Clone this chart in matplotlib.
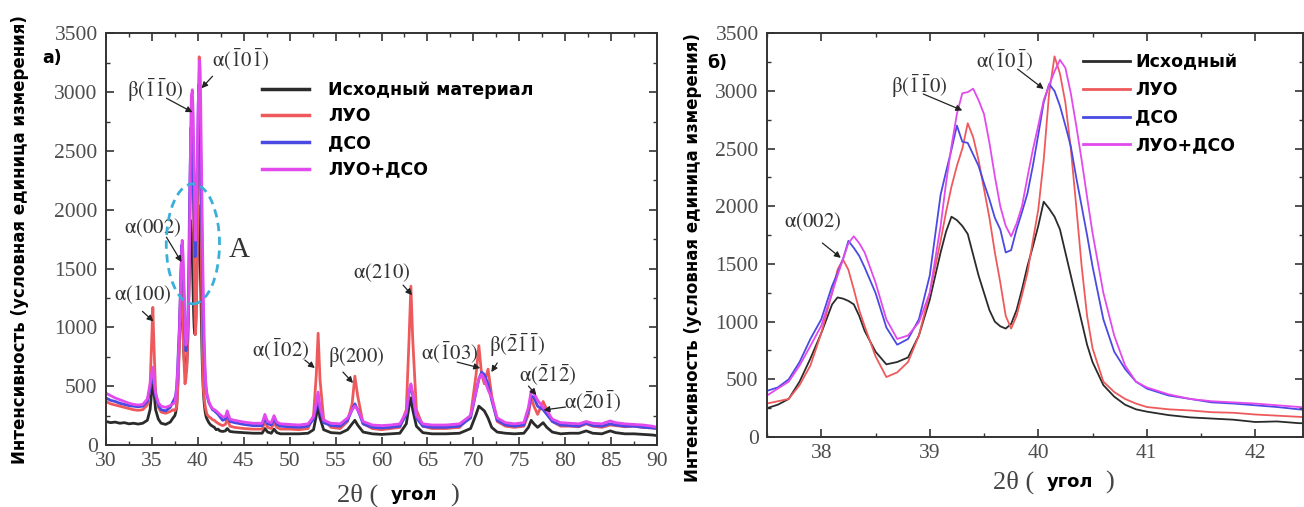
import matplotlib
matplotlib.use('Agg')
import matplotlib.pyplot as plt
from matplotlib.patches import Ellipse
from matplotlib.ticker import MultipleLocator
from matplotlib.font_manager import FontProperties

plt.rcParams['font.family'] = ['Liberation Serif', 'DejaVu Serif']
plt.rcParams['mathtext.fontset'] = 'stix'

# ---------------- data ----------------
# 2theta grid (three segments)
x_seg_a = [30, 30.5, 31, 31.5, 32, 32.5, 33, 33.5, 34, 34.5,
           34.8, 35.0, 35.1, 35.2, 35.4, 35.7, 36, 36.5, 37, 37.3]
x_seg_b = [37.5, 37.6, 37.7, 37.8, 37.9, 38.0, 38.1, 38.15, 38.2, 38.25,
           38.3, 38.35, 38.4, 38.5, 38.6, 38.7, 38.8, 38.9, 39.0, 39.1,
           39.15, 39.2, 39.25, 39.3, 39.35, 39.4, 39.45, 39.5, 39.55, 39.6,
           39.65, 39.7, 39.75, 39.8, 39.85, 39.9, 39.95, 40.0, 40.05, 40.1,
           40.15, 40.2, 40.25, 40.3, 40.35, 40.4, 40.45, 40.5, 40.6, 40.7,
           40.8, 40.9, 41.0, 41.2, 41.4, 41.6, 41.8, 42.0, 42.2, 42.4]
x_seg_c = [42.7, 43.0, 43.2, 43.5, 44, 45, 46, 47, 47.3, 47.6,
           48, 48.3, 48.6, 49, 50, 51, 52, 52.6, 52.9, 53.1,
           53.3, 53.7, 54.5, 55.5, 56.3, 56.8, 57.1, 57.4, 58, 59,
           60, 61, 62, 62.7, 63.0, 63.2, 63.4, 63.8, 64.5, 65.5,
           67, 68.5, 69.7, 70.3, 70.6, 70.9, 71.2, 71.6, 72.0, 72.6,
           73.5, 74.5, 75.5, 76.0, 76.3, 76.6, 77.0, 77.6, 78.0, 78.6,
           79.5, 80.5, 81.5, 82.3, 83, 84, 84.9, 85.5, 86.5, 87.5,
           88.5, 89.5, 90]

# Исходный материал
black_a = [200, 190, 195, 185, 190, 180, 185, 178, 185, 210,
           300, 480, 560, 470, 300, 220, 185, 175, 195, 230]
black_b = [250, 280, 330, 480, 680, 900, 1150, 1210, 1200, 1180,
           1150, 1050, 920, 740, 630, 650, 690, 880, 1190, 1600,
           1780, 1910, 1880, 1830, 1760, 1580, 1400, 1250, 1100, 1000,
           960, 940, 980, 1100, 1280, 1480, 1650, 1830, 2040, 1980,
           1910, 1800, 1600, 1400, 1200, 1000, 800, 650, 450, 350,
           280, 240, 220, 190, 170, 160, 150, 130, 135, 120]
black_c = [115, 120, 140, 115, 110, 105, 100, 100, 140, 110,
           100, 135, 105, 95, 95, 95, 100, 130, 250, 340,
           230, 130, 105, 100, 130, 180, 210, 170, 110, 95,
           90, 95, 100, 180, 330, 400, 300, 160, 105, 95,
           95, 100, 140, 260, 330, 310, 290, 230, 150, 110,
           100, 95, 100, 150, 210, 180, 150, 190, 150, 110,
           95, 100, 100, 120, 100, 95, 120, 105, 95, 95,
           90, 85, 80]

# ЛУО
red_a = [370, 350, 340, 330, 320, 310, 300, 295, 300, 340,
         500, 950, 1170, 900, 450, 320, 280, 270, 285, 300]
red_b = [290, 310, 330, 450, 620, 900, 1250, 1450, 1540, 1450,
         1280, 1100, 960, 700, 520, 560, 650, 880, 1250, 1700,
         1950, 2170, 2350, 2500, 2720, 2600, 2400, 2150, 1900, 1600,
         1340, 1050, 940, 1050, 1230, 1420, 1700, 1970, 2400, 2980,
         3300, 3150, 2900, 2500, 2000, 1480, 1050, 770, 480, 390,
         330, 290, 260, 240, 230, 215, 210, 195, 185, 175]
red_c = [165, 175, 220, 160, 150, 140, 135, 135, 200, 150,
         140, 190, 150, 135, 135, 130, 140, 250, 600, 950,
         560, 220, 150, 140, 200, 350, 585, 420, 180, 140,
         130, 140, 150, 300, 900, 1350, 900, 300, 160, 140,
         140, 150, 250, 600, 845, 600, 520, 645, 420, 200,
         160, 150, 160, 260, 400, 330, 260, 370, 300, 200,
         160, 160, 155, 180, 160, 150, 170, 165, 155, 160,
         150, 145, 140]

# ДСО
blue_a = [400, 380, 370, 355, 345, 335, 330, 325, 330, 370,
          480, 560, 600, 540, 420, 340, 300, 290, 320, 370]
blue_b = [400, 430, 500, 650, 850, 1020, 1310, 1420, 1540, 1700,
          1640, 1570, 1470, 1250, 950, 800, 850, 1020, 1400, 2100,
          2300, 2490, 2700, 2560, 2550, 2450, 2350, 2200, 2060, 1900,
          1800, 1600, 1620, 1800, 1950, 2110, 2350, 2620, 2900, 3060,
          3000, 2870, 2700, 2520, 2250, 2000, 1750, 1480, 1020, 740,
          590, 480, 420, 360, 330, 300, 290, 275, 260, 240]
blue_c = [210, 220, 270, 200, 190, 175, 165, 165, 230, 180,
          170, 220, 175, 160, 155, 150, 160, 220, 330, 390,
          300, 190, 165, 160, 210, 300, 350, 300, 180, 150,
          145, 150, 160, 260, 440, 510, 420, 230, 160, 150,
          150, 160, 230, 450, 560, 620, 600, 520, 380, 210,
          170, 160, 170, 300, 420, 400, 330, 300, 260, 200,
          170, 165, 160, 185, 165, 160, 180, 170, 160, 160,
          150, 145, 140]

# ЛУО+ДСО
mag_a = [440, 420, 400, 385, 370, 355, 345, 340, 345, 390,
         520, 620, 660, 580, 440, 360, 330, 320, 335, 350]
mag_b = [360, 420, 480, 620, 790, 965, 1250, 1400, 1540, 1680,
         1740, 1680, 1600, 1340, 1020, 850, 880, 995, 1250, 1830,
         2200, 2520, 2800, 2980, 2990, 3020, 2920, 2800, 2550, 2260,
         2000, 1830, 1740, 1850, 2000, 2250, 2490, 2700, 2920, 3050,
         3170, 3270, 3200, 2980, 2700, 2400, 2080, 1770, 1250, 880,
         620, 480, 430, 370, 330, 310, 300, 290, 275, 260]
mag_c = [240, 240, 290, 220, 210, 195, 185, 185, 260, 200,
         190, 250, 195, 180, 175, 170, 180, 240, 360, 450,
         330, 210, 185, 180, 230, 300, 330, 300, 200, 170,
         165, 170, 180, 280, 460, 520, 440, 250, 180, 170,
         170, 180, 250, 460, 560, 600, 560, 470, 400, 230,
         190, 180, 190, 320, 460, 440, 380, 320, 290, 220,
         190, 185, 180, 200, 185, 180, 205, 190, 180, 175,
         170, 160, 150]

legend_left = ['Исходный материал', 'ЛУО', 'ДСО', 'ЛУО+ДСО']
legend_right = ['Исходный', 'ЛУО', 'ДСО', 'ЛУО+ДСО']

two_theta = x_seg_a + x_seg_b + x_seg_c
series = [black_a + black_b + black_c,
          red_a + red_b + red_c,
          blue_a + blue_b + blue_c,
          mag_a + mag_b + mag_c]
for s in series:
    assert len(s) == len(two_theta), (len(s), len(two_theta))

colors = ['#2b2b2b', '#ee5a5c', '#4a4ae2', '#e24aee']

# ---------------- figure ----------------
W, H = 1304, 507
fig = plt.figure(figsize=(W / 100, H / 100), dpi=100)
axL = fig.add_axes([106 / W, 1 - 445 / H, (657 - 106) / W, (445 - 33.3) / H])
axR = fig.add_axes([767 / W, 1 - 437 / H, (1303 - 767) / W, (437 - 33.3) / H])

sans_bold = FontProperties(family='DejaVu Sans', weight='bold', size=12.5)

linesL = []
for y, c in zip(series, colors):
    ln, = axL.plot(two_theta, y, color=c, lw=2.0, solid_joinstyle='round')
    linesL.append(ln)
linesR = []
for y, c in zip(series, colors):
    ln, = axR.plot(two_theta, y, color=c, lw=1.3, solid_joinstyle='round')
    linesR.append(ln)

axL.set_xlim(30, 90)
axL.set_ylim(0, 3500)
axR.set_xlim(37.5, 42.44)
axR.set_ylim(0, 3500)

axL.xaxis.set_major_locator(MultipleLocator(5))
axL.xaxis.set_minor_locator(MultipleLocator(2.5))
axR.xaxis.set_major_locator(MultipleLocator(1))
axR.xaxis.set_minor_locator(MultipleLocator(0.5))
for ax in (axL, axR):
    ax.yaxis.set_major_locator(MultipleLocator(500))
    ax.yaxis.set_minor_locator(MultipleLocator(250))
    ax.tick_params(which='both', direction='in', top=True, right=True,
                   color='#333333', labelcolor='#4d4d4d')
    ax.tick_params(which='major', length=6, width=1.2, labelsize=15.5)
    ax.tick_params(which='minor', length=3, width=1.0)
    ax.tick_params(axis='y', pad=6)
    ax.tick_params(axis='x', pad=5)
    for sp in ax.spines.values():
        sp.set_linewidth(1.4)
        sp.set_color('#333333')

# legends
legL = axL.legend(linesL, legend_left, loc='upper left',
                  bbox_to_anchor=(0.284, 0.885), frameon=False, prop=sans_bold,
                  handlelength=2.7, handletextpad=1.1, labelspacing=0.5,
                  borderaxespad=0, borderpad=0)
for h in legL.get_lines():
    h.set_linewidth(2.5)
legR = axR.legend(linesR, legend_right, loc='upper left',
                  bbox_to_anchor=(0.59, 0.95), frameon=False, prop=sans_bold,
                  handlelength=2.7, handletextpad=0.3, labelspacing=0.55,
                  borderaxespad=0, borderpad=0)
for h in legR.get_lines():
    h.set_linewidth(2.0)

# annotations
ann_kw = dict(arrowstyle='-|>', color='#222222', lw=0.9, mutation_scale=9,
              shrinkA=0, shrinkB=0)
txt_kw = dict(fontsize=15, color='#333333', ha='center', va='center')

annL = [
    (r'$\mathrm{\alpha(\bar{1}0\bar{1})}$', (44.66, 3271), (41.6, 3135), (40.4, 3033)),
    (r'$\mathrm{\beta(\bar{1}\bar{1}0)}$', (35.38, 3016), (36.58, 2948), (39.42, 2829)),
    (r'$\mathrm{\alpha(002)}$', (35.06, 1844), (36.58, 1767), (38.22, 1555)),
    (r'$\mathrm{\alpha(100)}$', (34.0, 1274), (33.97, 1136), (35.16, 1051)),
    (r'$\mathrm{\alpha(\bar{1}02)}$', (49.05, 807), (51.65, 722), (52.74, 654)),
    (r'$\mathrm{\beta(200)}$', (57.2, 748), (55.8, 620), (56.9, 527)),
    (r'$\mathrm{\alpha(210)}$', (60.0, 1461), (62.35, 1359), (63.33, 1274)),
    (r'$\mathrm{\alpha(\bar{1}03)}$', (67.48, 782), (68.24, 705), (70.75, 654)),
    (r'$\mathrm{\beta(\bar{2}\bar{1}\bar{1})}$', (74.8, 850), (72.6, 697), (71.96, 620)),
    (r'$\mathrm{\alpha(\bar{2}1\bar{2})}$', (78.07, 595), (76.0, 501), (76.87, 425)),
    (r'$\mathrm{\alpha(\bar{2}0\bar{1})}$', (83.0, 365), (80.04, 323), (77.64, 297)),
]
for lab, tpos, tail, head in annL:
    axL.text(*tpos, lab, **txt_kw)
    axL.annotate('', xy=head, xytext=tail, arrowprops=ann_kw)

annR = [
    (r'$\mathrm{\alpha(002)}$', (37.92, 1869), (38.01, 1682), (38.18, 1553)),
    (r'$\mathrm{\beta(\bar{1}\bar{1}0)}$', (38.9, 3046), (38.94, 2974), (39.30, 2831)),
    (r'$\mathrm{\alpha(\bar{1}0\bar{1})}$', (39.69, 3261), (39.81, 3190), (40.05, 3017)),
]
for lab, tpos, tail, head in annR:
    axR.text(*tpos, lab, **txt_kw)
    axR.annotate('', xy=head, xytext=tail, arrowprops=ann_kw)

# region A
axL.add_patch(Ellipse((39.46, 1710), 5.8, 1020, fill=False, edgecolor='#3aafd9',
                      lw=2.0, linestyle=(0, (3, 2)), zorder=5))
axL.text(44.5, 1657, 'A', fontsize=21, color='#333333', ha='center', va='center')

# axis labels and panel labels
ylab = 'Интенсивность (условная единица измерения)'
fig.text(20 / W, 1 - 240 / H, ylab, rotation=90, ha='center', va='center',
         family='DejaVu Sans', weight='bold', fontsize=12)
fig.text(693 / W, 1 - 258 / H, ylab, rotation=90, ha='center', va='center',
         family='DejaVu Sans', weight='bold', fontsize=12)
fig.text(42 / W, 1 - 58 / H, 'а)', ha='left', va='center',
         family='DejaVu Sans', weight='bold', fontsize=12.5)
fig.text(707 / W, 1 - 63 / H, 'б)', ha='left', va='center',
         family='DejaVu Sans', weight='bold', fontsize=12.5)

for (x0, x1, x2, yc) in [(337, 391, 450, 495), (993, 1047, 1105, 482)]:
    fig.text(x0 / W, 1 - yc / H, '2θ (', ha='left', va='center',
             fontsize=19, color='#444444')
    fig.text(x1 / W, 1 - yc / H, 'угол', ha='left', va='center',
             family='DejaVu Sans', weight='bold', fontsize=13)
    fig.text(x2 / W, 1 - yc / H, ')', ha='left', va='center',
             fontsize=19, color='#444444')

fig.savefig('out.png', dpi=100)
